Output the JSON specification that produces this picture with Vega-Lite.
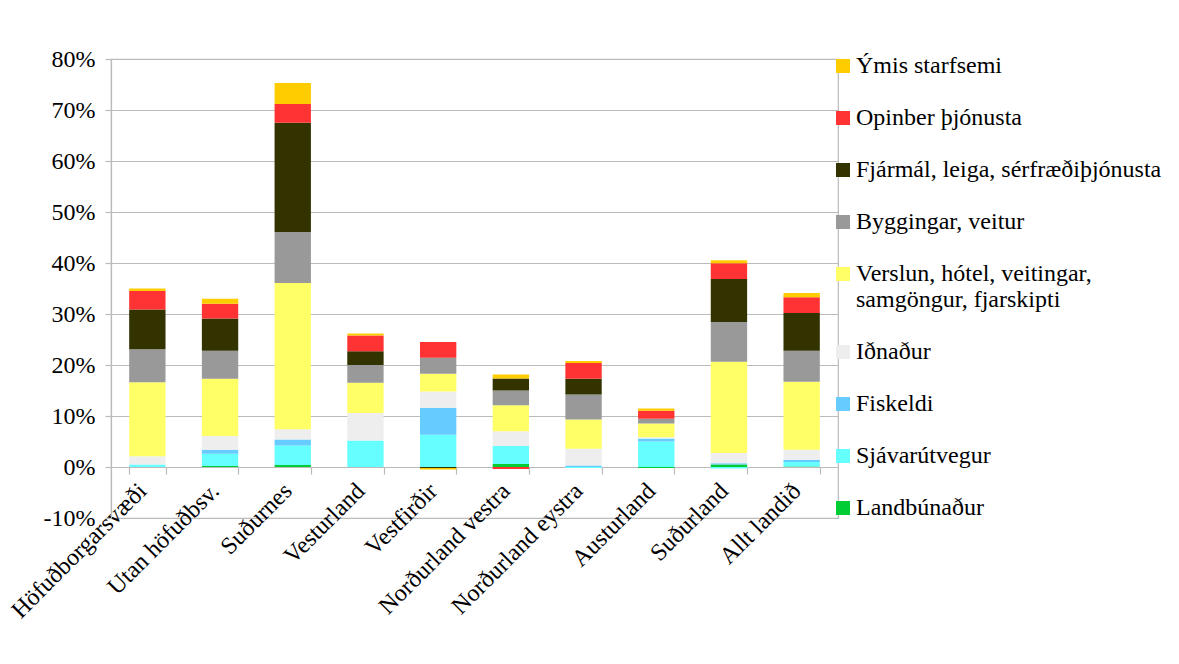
{
  "$schema": "https://vega.github.io/schema/vega-lite/v6.json",
  "width": 727,
  "height": 459,
  "autosize": {"type": "none"},
  "padding": {"left": 111, "top": 59, "right": 341, "bottom": 146},
  "background": "white",
  "config": {
    "font": "Liberation Serif",
    "view": {"stroke": "#bbbbbb", "strokeWidth": 1.2},
    "axis": {"labelFont": "Liberation Serif", "labelColor": "#000000", "domainColor": "#bbbbbb", "tickColor": "#bbbbbb", "gridColor": "#bbbbbb", "domainWidth": 1.2, "tickWidth": 1.2, "gridWidth": 1.2},
    "legend": {"labelFont": "Liberation Serif", "labelColor": "#000000"}
  },
  "data": {
    "values": [
      {"r": "Höfuðborgarsvæði", "s": "Landbúnaður", "v": 0.0},
      {"r": "Höfuðborgarsvæði", "s": "Sjávarútvegur", "v": 0.5},
      {"r": "Höfuðborgarsvæði", "s": "Fiskeldi", "v": 0.0},
      {"r": "Höfuðborgarsvæði", "s": "Iðnaður", "v": 1.6},
      {"r": "Höfuðborgarsvæði", "s": "Verslun, hótel, veitingar, samgöngur, fjarskipti", "v": 14.5},
      {"r": "Höfuðborgarsvæði", "s": "Byggingar, veitur", "v": 6.5},
      {"r": "Höfuðborgarsvæði", "s": "Fjármál, leiga, sérfræðiþjónusta", "v": 7.8},
      {"r": "Höfuðborgarsvæði", "s": "Opinber þjónusta", "v": 3.6},
      {"r": "Höfuðborgarsvæði", "s": "Ýmis starfsemi", "v": 0.5},
      {"r": "Utan höfuðbsv.", "s": "Landbúnaður", "v": 0.2},
      {"r": "Utan höfuðbsv.", "s": "Sjávarútvegur", "v": 2.4},
      {"r": "Utan höfuðbsv.", "s": "Fiskeldi", "v": 0.8},
      {"r": "Utan höfuðbsv.", "s": "Iðnaður", "v": 2.7},
      {"r": "Utan höfuðbsv.", "s": "Verslun, hótel, veitingar, samgöngur, fjarskipti", "v": 11.2},
      {"r": "Utan höfuðbsv.", "s": "Byggingar, veitur", "v": 5.5},
      {"r": "Utan höfuðbsv.", "s": "Fjármál, leiga, sérfræðiþjónusta", "v": 6.3},
      {"r": "Utan höfuðbsv.", "s": "Opinber þjónusta", "v": 2.9},
      {"r": "Utan höfuðbsv.", "s": "Ýmis starfsemi", "v": 1.0},
      {"r": "Suðurnes", "s": "Landbúnaður", "v": 0.4},
      {"r": "Suðurnes", "s": "Sjávarútvegur", "v": 3.8},
      {"r": "Suðurnes", "s": "Fiskeldi", "v": 1.2},
      {"r": "Suðurnes", "s": "Iðnaður", "v": 2.0},
      {"r": "Suðurnes", "s": "Verslun, hótel, veitingar, samgöngur, fjarskipti", "v": 28.7},
      {"r": "Suðurnes", "s": "Byggingar, veitur", "v": 10.0},
      {"r": "Suðurnes", "s": "Fjármál, leiga, sérfræðiþjónusta", "v": 21.4},
      {"r": "Suðurnes", "s": "Opinber þjónusta", "v": 3.7},
      {"r": "Suðurnes", "s": "Ýmis starfsemi", "v": 4.1},
      {"r": "Vesturland", "s": "Landbúnaður", "v": 0.0},
      {"r": "Vesturland", "s": "Sjávarútvegur", "v": 5.2},
      {"r": "Vesturland", "s": "Fiskeldi", "v": 0.0},
      {"r": "Vesturland", "s": "Iðnaður", "v": 5.4},
      {"r": "Vesturland", "s": "Verslun, hótel, veitingar, samgöngur, fjarskipti", "v": 5.9},
      {"r": "Vesturland", "s": "Byggingar, veitur", "v": 3.5},
      {"r": "Vesturland", "s": "Fjármál, leiga, sérfræðiþjónusta", "v": 2.7},
      {"r": "Vesturland", "s": "Opinber þjónusta", "v": 3.1},
      {"r": "Vesturland", "s": "Ýmis starfsemi", "v": 0.4},
      {"r": "Vestfirðir", "s": "Landbúnaður", "v": 0.0},
      {"r": "Vestfirðir", "s": "Sjávarútvegur", "v": 6.3},
      {"r": "Vestfirðir", "s": "Fiskeldi", "v": 5.3},
      {"r": "Vestfirðir", "s": "Iðnaður", "v": 3.2},
      {"r": "Vestfirðir", "s": "Verslun, hótel, veitingar, samgöngur, fjarskipti", "v": 3.5},
      {"r": "Vestfirðir", "s": "Byggingar, veitur", "v": 3.1},
      {"r": "Vestfirðir", "s": "Fjármál, leiga, sérfræðiþjónusta", "v": -0.2},
      {"r": "Vestfirðir", "s": "Opinber þjónusta", "v": 3.1},
      {"r": "Vestfirðir", "s": "Ýmis starfsemi", "v": -0.3},
      {"r": "Norðurland vestra", "s": "Landbúnaður", "v": 0.6},
      {"r": "Norðurland vestra", "s": "Sjávarútvegur", "v": 3.5},
      {"r": "Norðurland vestra", "s": "Fiskeldi", "v": 0.0},
      {"r": "Norðurland vestra", "s": "Iðnaður", "v": 2.9},
      {"r": "Norðurland vestra", "s": "Verslun, hótel, veitingar, samgöngur, fjarskipti", "v": 5.1},
      {"r": "Norðurland vestra", "s": "Byggingar, veitur", "v": 2.9},
      {"r": "Norðurland vestra", "s": "Fjármál, leiga, sérfræðiþjónusta", "v": 2.35},
      {"r": "Norðurland vestra", "s": "Opinber þjónusta", "v": -0.4},
      {"r": "Norðurland vestra", "s": "Ýmis starfsemi", "v": 0.8},
      {"r": "Norðurland eystra", "s": "Landbúnaður", "v": 0.0},
      {"r": "Norðurland eystra", "s": "Sjávarútvegur", "v": -0.2},
      {"r": "Norðurland eystra", "s": "Fiskeldi", "v": 0.3},
      {"r": "Norðurland eystra", "s": "Iðnaður", "v": 3.3},
      {"r": "Norðurland eystra", "s": "Verslun, hótel, veitingar, samgöngur, fjarskipti", "v": 5.7},
      {"r": "Norðurland eystra", "s": "Byggingar, veitur", "v": 4.9},
      {"r": "Norðurland eystra", "s": "Fjármál, leiga, sérfræðiþjónusta", "v": 3.1},
      {"r": "Norðurland eystra", "s": "Opinber þjónusta", "v": 3.1},
      {"r": "Norðurland eystra", "s": "Ýmis starfsemi", "v": 0.4},
      {"r": "Austurland", "s": "Landbúnaður", "v": -0.2},
      {"r": "Austurland", "s": "Sjávarútvegur", "v": 5.0},
      {"r": "Austurland", "s": "Fiskeldi", "v": 0.6},
      {"r": "Austurland", "s": "Iðnaður", "v": 0.25},
      {"r": "Austurland", "s": "Verslun, hótel, veitingar, samgöngur, fjarskipti", "v": 2.7},
      {"r": "Austurland", "s": "Byggingar, veitur", "v": 0.9},
      {"r": "Austurland", "s": "Fjármál, leiga, sérfræðiþjónusta", "v": 0.0},
      {"r": "Austurland", "s": "Opinber þjónusta", "v": 1.6},
      {"r": "Austurland", "s": "Ýmis starfsemi", "v": 0.4},
      {"r": "Suðurland", "s": "Landbúnaður", "v": 0.5},
      {"r": "Suðurland", "s": "Sjávarútvegur", "v": -0.3},
      {"r": "Suðurland", "s": "Fiskeldi", "v": 0.25},
      {"r": "Suðurland", "s": "Iðnaður", "v": 2.0},
      {"r": "Suðurland", "s": "Verslun, hótel, veitingar, samgöngur, fjarskipti", "v": 17.9},
      {"r": "Suðurland", "s": "Byggingar, veitur", "v": 7.8},
      {"r": "Suðurland", "s": "Fjármál, leiga, sérfræðiþjónusta", "v": 8.4},
      {"r": "Suðurland", "s": "Opinber þjónusta", "v": 3.1},
      {"r": "Suðurland", "s": "Ýmis starfsemi", "v": 0.6},
      {"r": "Allt landið", "s": "Landbúnaður", "v": 0.1},
      {"r": "Allt landið", "s": "Sjávarútvegur", "v": 0.9},
      {"r": "Allt landið", "s": "Fiskeldi", "v": 0.4},
      {"r": "Allt landið", "s": "Iðnaður", "v": 2.0},
      {"r": "Allt landið", "s": "Verslun, hótel, veitingar, samgöngur, fjarskipti", "v": 13.3},
      {"r": "Allt landið", "s": "Byggingar, veitur", "v": 6.1},
      {"r": "Allt landið", "s": "Fjármál, leiga, sérfræðiþjónusta", "v": 7.4},
      {"r": "Allt landið", "s": "Opinber þjónusta", "v": 3.1},
      {"r": "Allt landið", "s": "Ýmis starfsemi", "v": 0.8}
    ]
  },
  "transform": [
    {"calculate": "indexof(['Ýmis starfsemi','Opinber þjónusta','Fjármál, leiga, sérfræðiþjónusta','Byggingar, veitur','Verslun, hótel, veitingar, samgöngur, fjarskipti','Iðnaður','Fiskeldi','Sjávarútvegur','Landbúnaður'], datum.s)", "as": "o"}
  ],
  "mark": {"type": "bar"},
  "encoding": {
    "x": {
      "field": "r",
      "type": "nominal",
      "sort": null,
      "title": null,
      "scale": {"paddingInner": 0.5, "paddingOuter": 0.25},
      "axis": {"labelAngle": -45, "labelFontSize": 24, "tickBand": "extent", "tickSize": 7, "labelPadding": 18, "offset": -51, "labelLimit": 300, "labelAlign": "right", "labelBaseline": "alphabetic"}
    },
    "y": {
      "field": "v",
      "type": "quantitative",
      "stack": "zero",
      "title": null,
      "scale": {"domain": [-10, 80], "nice": false, "zero": false},
      "axis": {"values": [-10, 0, 10, 20, 30, 40, 50, 60, 70, 80], "labelExpr": "datum.value + '%'", "labelFontSize": 24, "tickSize": 6, "labelPadding": 10}
    },
    "color": {
      "field": "s",
      "type": "nominal",
      "title": null,
      "scale": {
        "domain": ["Ýmis starfsemi", "Opinber þjónusta", "Fjármál, leiga, sérfræðiþjónusta", "Byggingar, veitur", "Verslun, hótel, veitingar, samgöngur, fjarskipti", "Iðnaður", "Fiskeldi", "Sjávarútvegur", "Landbúnaður"],
        "range": ["#FFCC00", "#FF3333", "#333300", "#999999", "#FFFF66", "#EEEEEE", "#66CCFF", "#66FFFF", "#00CC33"]
      },
      "legend": {
        "orient": "none",
        "legendX": 720,
        "legendY": -5,
        "padding": 0,
        "symbolType": "square",
        "symbolSize": 196,
        "symbolStrokeWidth": 0,
        "symbolOpacity": 1,
        "labelFontSize": 24,
        "labelOffset": 1,
        "labelLimit": 400,
        "rowPadding": 28,
        "labelExpr": "datum.label == 'Verslun, hótel, veitingar, samgöngur, fjarskipti' ? ['Verslun, hótel, veitingar,', 'samgöngur, fjarskipti'] : datum.label"
      }
    },
    "order": {"field": "o", "type": "quantitative", "sort": "descending"}
  }
}
